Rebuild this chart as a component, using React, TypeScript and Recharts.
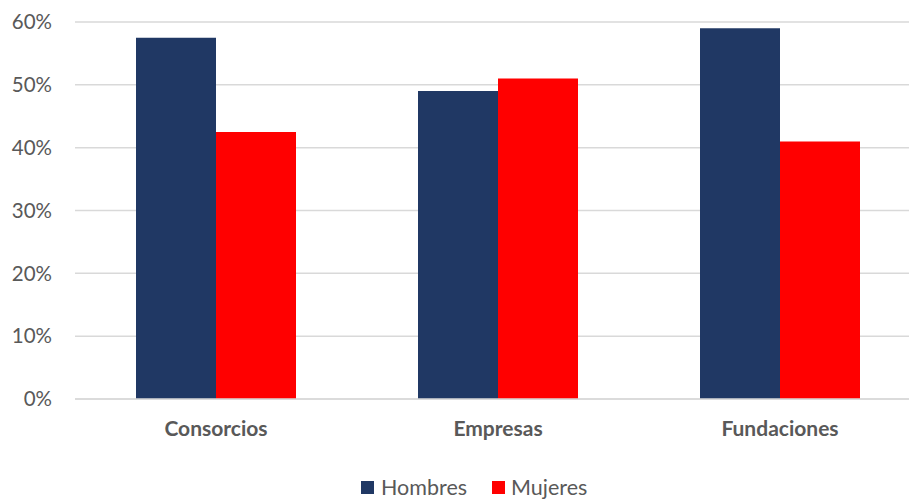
import React from "react";
import { BarChart, Bar, CartesianGrid, XAxis, YAxis, Legend } from "recharts";

const categorias = ["Consorcios", "Empresas", "Fundaciones"];
const hombres = [57.5, 49, 59];
const mujeres = [42.5, 51, 41];
const ticksY = [0, 10, 20, 30, 40, 50, 60];

const data = categorias.map((name, i) => ({
  name,
  Hombres: hombres[i],
  Mujeres: mujeres[i],
}));

const FONT = "Lato, 'Open Sans', sans-serif";

const LegendContent = () => (
  <div
    style={{
      display: "flex",
      justifyContent: "flex-start",
      paddingLeft: 361,
      fontFamily: FONT,
      fontSize: 21.5,
      color: "#595959",
      lineHeight: "22px",
    }}
  >
    <span style={{ display: "flex", alignItems: "center", marginRight: 25 }}>
      <span style={{ width: 13, height: 13, background: "#203864", marginRight: 7 }} />
      Hombres
    </span>
    <span style={{ display: "flex", alignItems: "center" }}>
      <span style={{ width: 13, height: 13, background: "#ff0000", marginRight: 6 }} />
      Mujeres
    </span>
  </div>
);

const App: React.FC = () => {
  return (
    <div
      style={{
        position: "absolute",
        left: 0,
        top: 0,
        width: 909,
        height: 499,
        overflow: "hidden",
        background: "#fff",
      }}
    >
      <BarChart
        width={921}
        height={499}
        data={data}
        barCategoryGap={61}
        barGap={0}
        margin={{ top: 22, right: 0, bottom: 0, left: 0 }}
      >
        <CartesianGrid vertical={false} stroke="#d9d9d9" strokeWidth={1.5} />
        <XAxis
          dataKey="name"
          height={40}
          tickLine={false}
          tickSize={0}
          tickMargin={22}
          axisLine={{ stroke: "#d9d9d9", strokeWidth: 1.5 }}
          tick={{ fill: "#595959", fontSize: 21, fontWeight: 700, fontFamily: FONT }}
        />
        <YAxis
          width={75}
          domain={[0, 60]}
          ticks={ticksY}
          tickFormatter={(v: number) => `${v}%`}
          axisLine={false}
          tickLine={false}
          tickSize={0}
          tickMargin={23}
          tick={{ fill: "#595959", fontSize: 20.5, fontFamily: FONT }}
        />
        <Legend
          verticalAlign="bottom"
          height={60}
          content={<LegendContent />}
          wrapperStyle={{ top: 476, left: 0, width: 909 }}
        />
        <Bar dataKey="Hombres" fill="#203864" barSize={80} isAnimationActive={false} />
        <Bar dataKey="Mujeres" fill="#ff0000" barSize={80} isAnimationActive={false} />
      </BarChart>
    </div>
  );
};

export default App;
